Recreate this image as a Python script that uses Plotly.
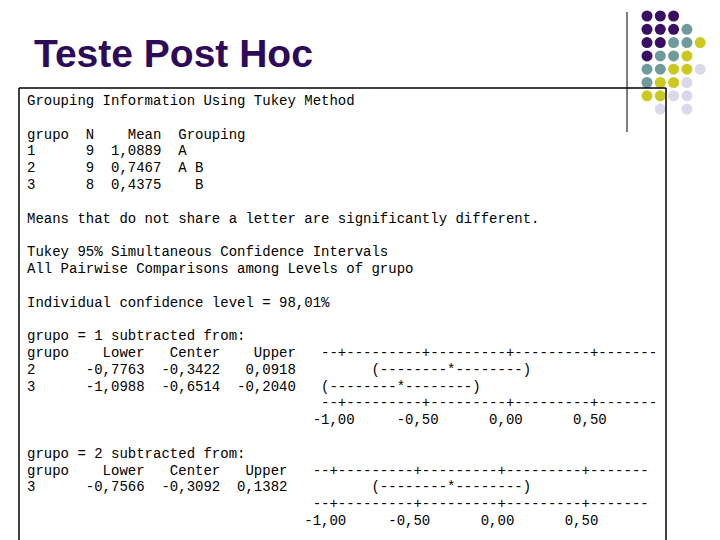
import plotly.graph_objects as go

title = "Teste Post Hoc"
groups = ["1", "2", "3"]
n_vals = [9, 9, 8]
means = ["1,0889", "0,7467", "0,4375"]
grouping = ["A", "A B", "  B"]

sec1_rows = ["2", "3"]
sec1_lower = ["-0,7763", "-1,0988"]
sec1_center = ["-0,3422", "-0,6514"]
sec1_upper = ["0,0918", "-0,2040"]
sec1_center_val = [-0.3422, -0.6514]

sec2_rows = ["3"]
sec2_lower = ["-0,7566"]
sec2_center = ["-0,3092"]
sec2_upper = ["0,1382"]
sec2_center_val = [-0.3092]

tick_labels = ["-1,00", "-0,50", "0,00", "0,50"]

# decorative dots (row, col, colour index)
dot_rows = [0,0,0, 1,1,1,1, 2,2,2,2,2, 3,3,3,3, 4,4,4,4,4, 5,5,5,5, 6,6,6,6, 7,7]
dot_cols = [0,1,2, 0,1,2,3, 0,1,2,3,4, 0,1,2,3, 0,1,2,3,4, 0,1,2,3, 0,1,2,3, 1,3]
dot_kind = [0,0,0, 0,0,0,1, 0,0,1,1,2, 0,1,1,2, 1,1,2,2,3, 1,2,2,3, 2,2,3,3, 3,3]
palette = ["#3a0e62", "#6f9b9d", "#cbc81f", "#d9d9ea"]

def col_of(v, plus0):
    return plus0 + round((v + 1.0) * 20)

def axis_line(start):
    return " " * start + "--+" + "---------+" * 3 + "-------"

def tick_line(starts):
    s = ""
    for st, lab in zip(starts, tick_labels):
        s = s.ljust(st) + lab
    return s

def interval(center, plus0):
    c = col_of(center, plus0)
    return " " * (c - 9) + "(--------*--------)"

lines = {}
lines[0] = "Grouping Information Using Tukey Method"
lines[2] = "grupo  N    Mean  Grouping"
for i, g in enumerate(groups):
    lines[3 + i] = f"{g:<5}{n_vals[i]:>3}{means[i]:>8}  {grouping[i]}"
lines[7] = "Means that do not share a letter are significantly different."
lines[9] = "Tukey 95% Simultaneous Confidence Intervals"
lines[10] = "All Pairwise Comparisons among Levels of grupo"
lines[12] = "Individual confidence level = 98,01%"
lines[14] = "grupo = 1 subtracted from:"
lines[15] = (f"{'grupo':<5}{'Lower':>9}{'Center':>9}{'Upper':>9}").ljust(35) + axis_line(0)
for i, g in enumerate(sec1_rows):
    base = f"{g:<5}{sec1_lower[i]:>9}{sec1_center[i]:>9}{sec1_upper[i]:>9}"
    iv = interval(sec1_center_val[i], 37)
    lines[16 + i] = base + iv[len(base):]
lines[18] = axis_line(35)
lines[19] = tick_line([34, 44, 55, 65])
lines[21] = "grupo = 2 subtracted from:"
lines[22] = (f"{'grupo':<5}{'Lower':>9}{'Center':>9}{'Upper':>8}").ljust(34) + axis_line(0)
for i, g in enumerate(sec2_rows):
    base = f"{g:<5}{sec2_lower[i]:>9}{sec2_center[i]:>9}{sec2_upper[i]:>8}"
    iv = interval(sec2_center_val[i], 36)
    lines[23 + i] = base + iv[len(base):]
lines[24] = axis_line(34)
lines[25] = tick_line([33, 43, 54, 64])

fig = go.Figure()
fig.add_trace(go.Scatter(
    x=[647 + 13.3 * c for c in dot_cols],
    y=[16 + 13.3 * r for r in dot_rows],
    mode="markers",
    marker=dict(size=11, color=[palette[k] for k in dot_kind], line=dict(width=0)),
    hoverinfo="skip", showlegend=False))

annotations = [dict(x=32, y=53, xref="x", yref="y", text=f"<b>{title}</b>", showarrow=False,
                    xanchor="left", yanchor="middle",
                    font=dict(family="Liberation Sans, Arial", size=39, color="#2e0a5a"))]
for k, t in lines.items():
    annotations.append(dict(x=25, y=101 + 16.8 * k, xref="x", yref="y",
                            text=t.replace(" ", "&nbsp;"), showarrow=False,
                            xanchor="left", yanchor="middle",
                            font=dict(family="Liberation Mono, Courier New", size=14, color="black")))

shapes = [
    dict(type="line", x0=19, x1=19, y0=88, y1=545, line=dict(color="black", width=1.5)),
    dict(type="line", x0=19, x1=666, y0=88, y1=88, line=dict(color="black", width=1.5)),
    dict(type="line", x0=666, x1=666, y0=88, y1=545, line=dict(color="black", width=1.5)),
    dict(type="line", x0=627, x1=627, y0=12, y1=132, line=dict(color="black", width=1)),
]

fig.update_layout(
    width=720, height=540, margin=dict(l=0, r=0, t=0, b=0),
    plot_bgcolor="white", paper_bgcolor="white",
    xaxis=dict(range=[0, 720], visible=False, fixedrange=True),
    yaxis=dict(range=[540, 0], visible=False, fixedrange=True),
    annotations=annotations, shapes=shapes,
)
fig.write_html("out.html", config={"displayModeBar": False})

with open("out.html", encoding="utf-8") as f:
    html = f.read()
html = html.replace("<body>", "<body style=\"margin:0;overflow:hidden\">", 1)
with open("out.html", "w", encoding="utf-8") as f:
    f.write(html)
